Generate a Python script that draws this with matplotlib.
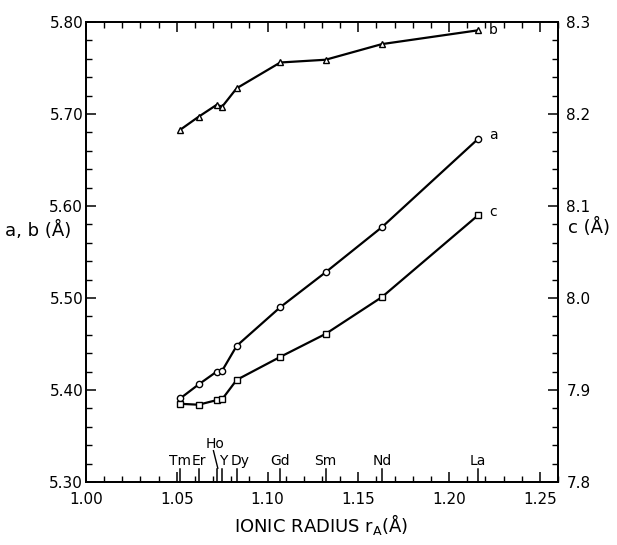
import matplotlib
matplotlib.use("Agg")
import matplotlib.pyplot as plt
import matplotlib.transforms as mtransforms
from matplotlib.ticker import MultipleLocator, FixedLocator, FixedFormatter

plt.rcParams['font.family'] = ['DejaVu Sans']

elements = ["Tm", "Er", "Ho", "Y", "Dy", "Gd", "Sm", "Nd", "La"]
radius = [1.052, 1.062, 1.072, 1.075, 1.083, 1.107, 1.132, 1.163, 1.216]
a_vals = [5.391, 5.406, 5.420, 5.421, 5.448, 5.490, 5.528, 5.577, 5.673]
b_vals = [5.683, 5.697, 5.710, 5.708, 5.728, 5.756, 5.759, 5.776, 5.791]
c_vals = [7.885, 7.884, 7.889, 7.890, 7.911, 7.936, 7.961, 8.001, 8.090]

x_ticks = [1.00, 1.05, 1.10, 1.15, 1.20, 1.25]
x_labels = ["1.00", "1.05", "1.10", "1.15", "1.20", "1.25"]
yl_ticks = [5.30, 5.40, 5.50, 5.60, 5.70, 5.80]
yl_labels = ["5.30", "5.40", "5.50", "5.60", "5.70", "5.80"]
yr_ticks = [7.8, 7.9, 8.0, 8.1, 8.2, 8.3]
yr_labels = ["7.8", "7.9", "8.0", "8.1", "8.2", "8.3"]

fig = plt.figure(figsize=(6.17, 5.45), dpi=100)
ax = fig.add_axes([0.1394, 0.1156, 0.7650, 0.8440])
ax2 = ax.twinx()

lw = 1.6
mk = dict(markersize=4.5, markerfacecolor='white', markeredgecolor='black',
          markeredgewidth=1.0, color='black', linewidth=lw)
ax.plot(radius, b_vals, marker='^', **mk)
ax.plot(radius, a_vals, marker='o', **mk)
ax2.plot(radius, c_vals, marker='s', **mk)

ax.set_xlim(1.00, 1.26)
ax.set_ylim(5.30, 5.80)
ax2.set_ylim(7.8, 8.3)

for s in list(ax.spines.values()) + list(ax2.spines.values()):
    s.set_linewidth(1.3)

ax.xaxis.set_major_locator(FixedLocator(x_ticks))
ax.xaxis.set_major_formatter(FixedFormatter(x_labels))
ax.xaxis.set_minor_locator(MultipleLocator(0.01))
ax.yaxis.set_major_locator(FixedLocator(yl_ticks))
ax.yaxis.set_major_formatter(FixedFormatter(yl_labels))
ax.yaxis.set_minor_locator(MultipleLocator(0.02))
ax2.yaxis.set_major_locator(FixedLocator(yr_ticks))
ax2.yaxis.set_major_formatter(FixedFormatter(yr_labels))
ax2.yaxis.set_minor_locator(MultipleLocator(0.02))

ax.tick_params(axis='x', which='both', direction='in', top=True, bottom=True, labelsize=11, pad=7)
ax.tick_params(axis='y', which='both', direction='in', left=True, right=False, labelsize=11, pad=2)
ax.tick_params(which='major', length=7, width=1.1)
ax.tick_params(which='minor', length=4.5, width=1.0)
ax2.tick_params(axis='y', which='both', direction='in', labelsize=11, pad=6)
ax2.tick_params(which='major', length=7, width=1.1)
ax2.tick_params(which='minor', length=4.5, width=1.0)

# element ticks along the bottom axis
trans = mtransforms.blended_transform_factory(ax.transData, ax.transAxes)
for r, el in zip(radius, elements):
    ax.plot([r, r], [0, 0.028], color='black', linewidth=1.1, transform=trans, clip_on=False)
    if el == "Ho":
        ax.text(r - 0.0008, 0.083, el, transform=trans, ha='center', va='center', fontsize=10)
        ax.plot([r - 0.0018, r + 0.0006], [0.068, 0.030], color='black', linewidth=1.0, transform=trans)
    else:
        dx = {"Tm": 0.0, "Er": 0.0, "Y": 0.0008, "Dy": 0.002}.get(el, 0.0)
        ax.text(r + dx, 0.046, el, transform=trans, ha='center', va='center', fontsize=10)

# curve labels
ax.text(radius[-1] + 0.006, b_vals[-1], "b", ha='left', va='center', fontsize=10)
ax.text(radius[-1] + 0.006, a_vals[-1] + 0.004, "a", ha='left', va='center', fontsize=10)
ax2.text(radius[-1] + 0.006, c_vals[-1] + 0.003, "c", ha='left', va='center', fontsize=10)

fig.text(0.062, 0.578, "a, b (Å)", ha='center', va='center', fontsize=13)
fig.text(0.955, 0.582, "c (Å)", ha='center', va='center', fontsize=13)
fig.text(0.52, 0.037, r"IONIC RADIUS r$_{\rm A}$(Å)", ha='center', va='center', fontsize=13)

fig.savefig("out.png", dpi=100)
